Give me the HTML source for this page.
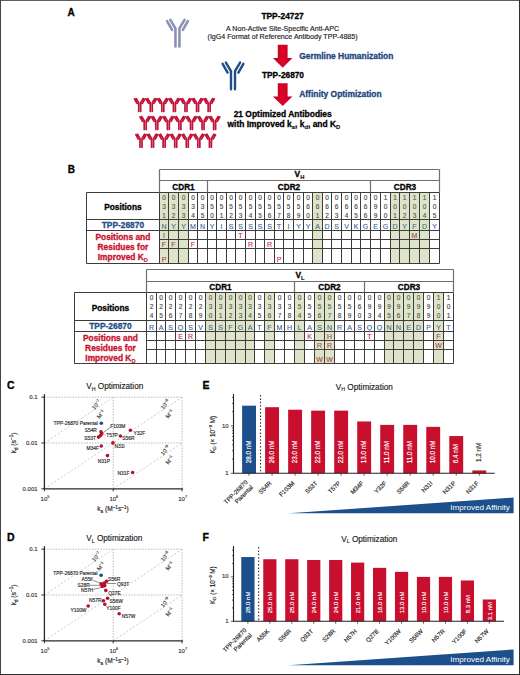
<!DOCTYPE html>
<html><head><meta charset="utf-8"><style>
html,body{margin:0;padding:0;background:#fff;}
svg{display:block;}
text{font-family:"Liberation Sans",sans-serif;}
</style></head><body>
<svg width="520" height="675" viewBox="0 0 520 675">
<defs><linearGradient id="ag" x1="0" y1="0" x2="1" y2="0"><stop offset="0" stop-color="#b5001f"/><stop offset="0.45" stop-color="#dc0528"/><stop offset="0.6" stop-color="#d80427"/><stop offset="1" stop-color="#b5001f"/></linearGradient></defs>
<rect width="520" height="675" fill="#fff"/>
<path d="M0,0.5H520" stroke="#5e5e5e" stroke-width="1"/>
<path d="M0.5,0V675" stroke="#454545" stroke-width="1"/>
<path d="M519.5,0V675" stroke="#2e2e2e" stroke-width="1"/>
<path d="M0,674.5H520" stroke="#2e2e2e" stroke-width="1"/>
<text x="67.5" y="15.8" font-size="10" font-weight="bold" stroke="#000" stroke-width="0.3" fill="#000">A</text>
<text x="282.6" y="19.4" font-size="8.4" font-weight="bold" stroke="#000" stroke-width="0.3" fill="#000" text-anchor="middle">TPP-24727</text>
<text stroke="#222" stroke-width="0.15" x="282.6" y="30.7" font-size="7.1" fill="#222" text-anchor="middle">A Non-Active Site-Specific Anti-APC</text>
<text stroke="#222" stroke-width="0.15" x="282.6" y="39.4" font-size="7.1" fill="#222" text-anchor="middle">(IgG4 Format of Reference Antibody TPP-4885)</text>
<path d="M277.8,44.8 L287.6,44.8 L287.6,57.9 L292.4,57.9 L282.7,67.7 L273,57.9 L277.8,57.9 Z" fill="url(#ag)"/>
<path d="M277.8,83.3 L287.6,83.3 L287.6,96.5 L292.4,96.5 L282.7,106 L273,96.5 L277.8,96.5 Z" fill="url(#ag)"/>
<text x="299.2" y="59.3" font-size="8.45" font-weight="bold" stroke="#1c467c" stroke-width="0.3" fill="#1c467c">Germline Humanization</text>
<text x="283" y="78.1" font-size="8.3" font-weight="bold" stroke="#000" stroke-width="0.3" fill="#000" text-anchor="middle">TPP-26870</text>
<text x="299.2" y="97.4" font-size="8.45" font-weight="bold" stroke="#1c467c" stroke-width="0.3" fill="#1c467c">Affinity Optimization</text>
<text x="282.7" y="117.1" font-size="8.45" font-weight="bold" stroke="#000" stroke-width="0.3" fill="#000" text-anchor="middle">21 Optimized Antibodies</text>
<text x="283.9" y="127.1" font-size="8.45" font-weight="bold" stroke="#000" stroke-width="0.3" text-anchor="middle">with Improved k<tspan font-size="5.8" dy="1.9" stroke-width="0.1">a</tspan><tspan dy="-1.9">, k</tspan><tspan font-size="5.8" dy="1.9" stroke-width="0.1">d</tspan><tspan dy="-1.9">, and K</tspan><tspan font-size="5.8" dy="1.9" stroke-width="0.1">D</tspan></text>
<path d="M175.45,46.4 L175.45,28.4 L170.35,19.95 M179.45,46.4 L179.45,28.4 L184.55,19.95 M172.05,29.9 L167.05,21.1 M182.85,29.9 L187.85,21.1" fill="none" stroke="#8c92b7" stroke-width="2.6" stroke-linejoin="round" stroke-linecap="round"/>
<path d="M231,89.2 L231,71.1 L225.9,62.6 M235,89.2 L235,71.1 L240.1,62.6 M227.6,72.6 L222.6,63.8 M238.4,72.6 L243.4,63.8" fill="none" stroke="#1f4f88" stroke-width="2.4" stroke-linejoin="round" stroke-linecap="round"/>
<path d="M138.7,111.45 L138.7,102.65 L136.15,98.53 M140.7,111.45 L140.7,102.65 L143.25,98.53 M137,103.4 L134.5,99 M142.4,103.4 L144.9,99" fill="none" stroke="#c01439" stroke-width="1.7" stroke-linejoin="round" stroke-linecap="round"/>
<path d="M150.27,111.45 L150.27,102.65 L147.72,98.53 M152.27,111.45 L152.27,102.65 L154.82,98.53 M148.57,103.4 L146.07,99 M153.97,103.4 L156.47,99" fill="none" stroke="#c01439" stroke-width="1.7" stroke-linejoin="round" stroke-linecap="round"/>
<path d="M161.84,111.45 L161.84,102.65 L159.29,98.53 M163.84,111.45 L163.84,102.65 L166.39,98.53 M160.14,103.4 L157.64,99 M165.54,103.4 L168.04,99" fill="none" stroke="#c01439" stroke-width="1.7" stroke-linejoin="round" stroke-linecap="round"/>
<path d="M173.41,111.45 L173.41,102.65 L170.86,98.53 M175.41,111.45 L175.41,102.65 L177.96,98.53 M171.71,103.4 L169.21,99 M177.11,103.4 L179.61,99" fill="none" stroke="#c01439" stroke-width="1.7" stroke-linejoin="round" stroke-linecap="round"/>
<path d="M184.98,111.45 L184.98,102.65 L182.43,98.53 M186.98,111.45 L186.98,102.65 L189.53,98.53 M183.28,103.4 L180.78,99 M188.68,103.4 L191.18,99" fill="none" stroke="#c01439" stroke-width="1.7" stroke-linejoin="round" stroke-linecap="round"/>
<path d="M196.55,111.45 L196.55,102.65 L194,98.53 M198.55,111.45 L198.55,102.65 L201.1,98.53 M194.85,103.4 L192.35,99 M200.25,103.4 L202.75,99" fill="none" stroke="#c01439" stroke-width="1.7" stroke-linejoin="round" stroke-linecap="round"/>
<path d="M208.12,111.45 L208.12,102.65 L205.57,98.53 M210.12,111.45 L210.12,102.65 L212.67,98.53 M206.42,103.4 L203.92,99 M211.82,103.4 L214.32,99" fill="none" stroke="#c01439" stroke-width="1.7" stroke-linejoin="round" stroke-linecap="round"/>
<path d="M144.2,129.45 L144.2,120.65 L141.65,116.53 M146.2,129.45 L146.2,120.65 L148.75,116.53 M142.5,121.4 L140,117 M147.9,121.4 L150.4,117" fill="none" stroke="#c01439" stroke-width="1.7" stroke-linejoin="round" stroke-linecap="round"/>
<path d="M155.77,129.45 L155.77,120.65 L153.22,116.53 M157.77,129.45 L157.77,120.65 L160.32,116.53 M154.07,121.4 L151.57,117 M159.47,121.4 L161.97,117" fill="none" stroke="#c01439" stroke-width="1.7" stroke-linejoin="round" stroke-linecap="round"/>
<path d="M167.34,129.45 L167.34,120.65 L164.79,116.53 M169.34,129.45 L169.34,120.65 L171.89,116.53 M165.64,121.4 L163.14,117 M171.04,121.4 L173.54,117" fill="none" stroke="#c01439" stroke-width="1.7" stroke-linejoin="round" stroke-linecap="round"/>
<path d="M178.91,129.45 L178.91,120.65 L176.36,116.53 M180.91,129.45 L180.91,120.65 L183.46,116.53 M177.21,121.4 L174.71,117 M182.61,121.4 L185.11,117" fill="none" stroke="#c01439" stroke-width="1.7" stroke-linejoin="round" stroke-linecap="round"/>
<path d="M190.48,129.45 L190.48,120.65 L187.93,116.53 M192.48,129.45 L192.48,120.65 L195.03,116.53 M188.78,121.4 L186.28,117 M194.18,121.4 L196.68,117" fill="none" stroke="#c01439" stroke-width="1.7" stroke-linejoin="round" stroke-linecap="round"/>
<path d="M202.05,129.45 L202.05,120.65 L199.5,116.53 M204.05,129.45 L204.05,120.65 L206.6,116.53 M200.35,121.4 L197.85,117 M205.75,121.4 L208.25,117" fill="none" stroke="#c01439" stroke-width="1.7" stroke-linejoin="round" stroke-linecap="round"/>
<path d="M213.62,129.45 L213.62,120.65 L211.07,116.53 M215.62,129.45 L215.62,120.65 L218.17,116.53 M211.92,121.4 L209.42,117 M217.32,121.4 L219.82,117" fill="none" stroke="#c01439" stroke-width="1.7" stroke-linejoin="round" stroke-linecap="round"/>
<path d="M140,147.15 L140,138.35 L137.45,134.22 M142,147.15 L142,138.35 L144.55,134.22 M138.3,139.1 L135.8,134.7 M143.7,139.1 L146.2,134.7" fill="none" stroke="#c01439" stroke-width="1.7" stroke-linejoin="round" stroke-linecap="round"/>
<path d="M151.57,147.15 L151.57,138.35 L149.02,134.22 M153.57,147.15 L153.57,138.35 L156.12,134.22 M149.87,139.1 L147.37,134.7 M155.27,139.1 L157.77,134.7" fill="none" stroke="#c01439" stroke-width="1.7" stroke-linejoin="round" stroke-linecap="round"/>
<path d="M163.14,147.15 L163.14,138.35 L160.59,134.22 M165.14,147.15 L165.14,138.35 L167.69,134.22 M161.44,139.1 L158.94,134.7 M166.84,139.1 L169.34,134.7" fill="none" stroke="#c01439" stroke-width="1.7" stroke-linejoin="round" stroke-linecap="round"/>
<path d="M174.71,147.15 L174.71,138.35 L172.16,134.22 M176.71,147.15 L176.71,138.35 L179.26,134.22 M173.01,139.1 L170.51,134.7 M178.41,139.1 L180.91,134.7" fill="none" stroke="#c01439" stroke-width="1.7" stroke-linejoin="round" stroke-linecap="round"/>
<path d="M186.28,147.15 L186.28,138.35 L183.73,134.22 M188.28,147.15 L188.28,138.35 L190.83,134.22 M184.58,139.1 L182.08,134.7 M189.98,139.1 L192.48,134.7" fill="none" stroke="#c01439" stroke-width="1.7" stroke-linejoin="round" stroke-linecap="round"/>
<path d="M197.85,147.15 L197.85,138.35 L195.3,134.22 M199.85,147.15 L199.85,138.35 L202.4,134.22 M196.15,139.1 L193.65,134.7 M201.55,139.1 L204.05,134.7" fill="none" stroke="#c01439" stroke-width="1.7" stroke-linejoin="round" stroke-linecap="round"/>
<path d="M209.42,147.15 L209.42,138.35 L206.87,134.22 M211.42,147.15 L211.42,138.35 L213.97,134.22 M207.72,139.1 L205.22,134.7 M213.12,139.1 L215.62,134.7" fill="none" stroke="#c01439" stroke-width="1.7" stroke-linejoin="round" stroke-linecap="round"/>
<text x="67.7" y="173" font-size="10" font-weight="bold" stroke="#000" stroke-width="0.3" fill="#000">B</text>
<rect x="159.5" y="192.5" width="9" height="71" fill="#dde4ca"/>
<rect x="168.5" y="192.5" width="10" height="71" fill="#dde4ca"/>
<rect x="178.5" y="192.5" width="10" height="71" fill="#dde4ca"/>
<rect x="312.5" y="192.5" width="10" height="71" fill="#dde4ca"/>
<rect x="390.5" y="192.5" width="9" height="71" fill="#dde4ca"/>
<rect x="399.5" y="192.5" width="10" height="71" fill="#dde4ca"/>
<rect x="409.5" y="192.5" width="10" height="71" fill="#dde4ca"/>
<rect x="419.5" y="192.5" width="10" height="71" fill="#dde4ca"/>
<path d="M86.5,192.5H439.5 M86.5,219.5H439.5 M86.5,230.5H439.5 M159.5,239.5H439.5 M159.5,248.5H439.5 M86.5,263.5H439.5 M86.5,192.5V263.5 M159.5,192.5V263.5 M168.5,192.5V263.5 M178.5,192.5V263.5 M188.5,192.5V263.5 M197.5,192.5V263.5 M207.5,192.5V263.5 M216.5,192.5V263.5 M226.5,192.5V263.5 M235.5,192.5V263.5 M245.5,192.5V263.5 M255.5,192.5V263.5 M264.5,192.5V263.5 M274.5,192.5V263.5 M283.5,192.5V263.5 M293.5,192.5V263.5 M303.5,192.5V263.5 M312.5,192.5V263.5 M322.5,192.5V263.5 M331.5,192.5V263.5 M341.5,192.5V263.5 M351.5,192.5V263.5 M360.5,192.5V263.5 M370.5,192.5V263.5 M380.5,192.5V263.5 M390.5,192.5V263.5 M399.5,192.5V263.5 M409.5,192.5V263.5 M419.5,192.5V263.5 M429.5,192.5V263.5 M439.5,192.5V263.5" stroke="#3c3c3c" stroke-width="1" fill="none"/>
<path d="M159.5,169.5H439.5 M159.5,180.5H439.5 M159.5,169.5V192.5 M439.5,169.5V192.5 M207.5,180.5V192.5 M370.5,180.5V192.5" stroke="#707070" stroke-width="1.2" fill="none"/>
<text x="299.5" y="177.2" font-size="8.4" font-weight="bold" stroke="#000" stroke-width="0.3" text-anchor="middle">V<tspan font-size="5.8" dy="2" stroke-width="0.1">H</tspan></text>
<text x="183.5" y="189.5" font-size="8.2" font-weight="bold" stroke="#000" stroke-width="0.3" fill="#000" text-anchor="middle">CDR1</text>
<text x="289" y="189.5" font-size="8.2" font-weight="bold" stroke="#000" stroke-width="0.3" fill="#000" text-anchor="middle">CDR2</text>
<text x="405" y="189.5" font-size="8.2" font-weight="bold" stroke="#000" stroke-width="0.3" fill="#000" text-anchor="middle">CDR3</text>
<text stroke="#5e5e48" stroke-width="0.15" x="164" y="199.9" font-size="6.5" fill="#5e5e48" text-anchor="middle">0</text>
<text stroke="#5e5e48" stroke-width="0.15" x="164" y="209" font-size="6.5" fill="#5e5e48" text-anchor="middle">3</text>
<text stroke="#5e5e48" stroke-width="0.15" x="164" y="218.1" font-size="6.5" fill="#5e5e48" text-anchor="middle">1</text>
<text stroke="#4d7385" stroke-width="0.15" x="164" y="228.8" font-size="7" fill="#4d7385" text-anchor="middle">N</text>
<text stroke="#a85048" stroke-width="0.15" x="164" y="237.8" font-size="7" fill="#a85048" text-anchor="middle">I</text>
<text stroke="#a85048" stroke-width="0.15" x="164" y="246.7" font-size="7" fill="#a85048" text-anchor="middle">F</text>
<text stroke="#a85048" stroke-width="0.15" x="164" y="261.5" font-size="7" fill="#a85048" text-anchor="middle">P</text>
<text stroke="#5e5e48" stroke-width="0.15" x="173.5" y="199.9" font-size="6.5" fill="#5e5e48" text-anchor="middle">0</text>
<text stroke="#5e5e48" stroke-width="0.15" x="173.5" y="209" font-size="6.5" fill="#5e5e48" text-anchor="middle">3</text>
<text stroke="#5e5e48" stroke-width="0.15" x="173.5" y="218.1" font-size="6.5" fill="#5e5e48" text-anchor="middle">2</text>
<text stroke="#4d7385" stroke-width="0.15" x="173.5" y="228.8" font-size="7" fill="#4d7385" text-anchor="middle">Y</text>
<text stroke="#a85048" stroke-width="0.15" x="173.5" y="246.7" font-size="7" fill="#a85048" text-anchor="middle">F</text>
<text stroke="#5e5e48" stroke-width="0.15" x="183.5" y="199.9" font-size="6.5" fill="#5e5e48" text-anchor="middle">0</text>
<text stroke="#5e5e48" stroke-width="0.15" x="183.5" y="209" font-size="6.5" fill="#5e5e48" text-anchor="middle">3</text>
<text stroke="#5e5e48" stroke-width="0.15" x="183.5" y="218.1" font-size="6.5" fill="#5e5e48" text-anchor="middle">3</text>
<text stroke="#4d7385" stroke-width="0.15" x="183.5" y="228.8" font-size="7" fill="#4d7385" text-anchor="middle">Y</text>
<text stroke="#4a4a4a" stroke-width="0.15" x="193" y="199.9" font-size="6.5" fill="#4a4a4a" text-anchor="middle">0</text>
<text stroke="#4a4a4a" stroke-width="0.15" x="193" y="209" font-size="6.5" fill="#4a4a4a" text-anchor="middle">3</text>
<text stroke="#4a4a4a" stroke-width="0.15" x="193" y="218.1" font-size="6.5" fill="#4a4a4a" text-anchor="middle">4</text>
<text stroke="#3f6aa5" stroke-width="0.15" x="193" y="228.8" font-size="7" fill="#3f6aa5" text-anchor="middle">M</text>
<text stroke="#cc2f52" stroke-width="0.15" x="193" y="246.7" font-size="7" fill="#cc2f52" text-anchor="middle">F</text>
<text stroke="#4a4a4a" stroke-width="0.15" x="202.5" y="199.9" font-size="6.5" fill="#4a4a4a" text-anchor="middle">0</text>
<text stroke="#4a4a4a" stroke-width="0.15" x="202.5" y="209" font-size="6.5" fill="#4a4a4a" text-anchor="middle">3</text>
<text stroke="#4a4a4a" stroke-width="0.15" x="202.5" y="218.1" font-size="6.5" fill="#4a4a4a" text-anchor="middle">5</text>
<text stroke="#3f6aa5" stroke-width="0.15" x="202.5" y="228.8" font-size="7" fill="#3f6aa5" text-anchor="middle">N</text>
<text stroke="#4a4a4a" stroke-width="0.15" x="212" y="199.9" font-size="6.5" fill="#4a4a4a" text-anchor="middle">0</text>
<text stroke="#4a4a4a" stroke-width="0.15" x="212" y="209" font-size="6.5" fill="#4a4a4a" text-anchor="middle">5</text>
<text stroke="#4a4a4a" stroke-width="0.15" x="212" y="218.1" font-size="6.5" fill="#4a4a4a" text-anchor="middle">0</text>
<text stroke="#3f6aa5" stroke-width="0.15" x="212" y="228.8" font-size="7" fill="#3f6aa5" text-anchor="middle">Y</text>
<text stroke="#4a4a4a" stroke-width="0.15" x="221.5" y="199.9" font-size="6.5" fill="#4a4a4a" text-anchor="middle">0</text>
<text stroke="#4a4a4a" stroke-width="0.15" x="221.5" y="209" font-size="6.5" fill="#4a4a4a" text-anchor="middle">5</text>
<text stroke="#4a4a4a" stroke-width="0.15" x="221.5" y="218.1" font-size="6.5" fill="#4a4a4a" text-anchor="middle">1</text>
<text stroke="#3f6aa5" stroke-width="0.15" x="221.5" y="228.8" font-size="7" fill="#3f6aa5" text-anchor="middle">I</text>
<text stroke="#4a4a4a" stroke-width="0.15" x="231" y="199.9" font-size="6.5" fill="#4a4a4a" text-anchor="middle">0</text>
<text stroke="#4a4a4a" stroke-width="0.15" x="231" y="209" font-size="6.5" fill="#4a4a4a" text-anchor="middle">5</text>
<text stroke="#4a4a4a" stroke-width="0.15" x="231" y="218.1" font-size="6.5" fill="#4a4a4a" text-anchor="middle">2</text>
<text stroke="#3f6aa5" stroke-width="0.15" x="231" y="228.8" font-size="7" fill="#3f6aa5" text-anchor="middle">S</text>
<text stroke="#4a4a4a" stroke-width="0.15" x="240.5" y="199.9" font-size="6.5" fill="#4a4a4a" text-anchor="middle">0</text>
<text stroke="#4a4a4a" stroke-width="0.15" x="240.5" y="209" font-size="6.5" fill="#4a4a4a" text-anchor="middle">5</text>
<text stroke="#4a4a4a" stroke-width="0.15" x="240.5" y="218.1" font-size="6.5" fill="#4a4a4a" text-anchor="middle">3</text>
<text stroke="#3f6aa5" stroke-width="0.15" x="240.5" y="228.8" font-size="7" fill="#3f6aa5" text-anchor="middle">S</text>
<text stroke="#cc2f52" stroke-width="0.15" x="240.5" y="237.8" font-size="7" fill="#cc2f52" text-anchor="middle">T</text>
<text stroke="#4a4a4a" stroke-width="0.15" x="250.5" y="199.9" font-size="6.5" fill="#4a4a4a" text-anchor="middle">0</text>
<text stroke="#4a4a4a" stroke-width="0.15" x="250.5" y="209" font-size="6.5" fill="#4a4a4a" text-anchor="middle">5</text>
<text stroke="#4a4a4a" stroke-width="0.15" x="250.5" y="218.1" font-size="6.5" fill="#4a4a4a" text-anchor="middle">4</text>
<text stroke="#3f6aa5" stroke-width="0.15" x="250.5" y="228.8" font-size="7" fill="#3f6aa5" text-anchor="middle">S</text>
<text stroke="#cc2f52" stroke-width="0.15" x="250.5" y="246.7" font-size="7" fill="#cc2f52" text-anchor="middle">R</text>
<text stroke="#4a4a4a" stroke-width="0.15" x="260" y="199.9" font-size="6.5" fill="#4a4a4a" text-anchor="middle">0</text>
<text stroke="#4a4a4a" stroke-width="0.15" x="260" y="209" font-size="6.5" fill="#4a4a4a" text-anchor="middle">5</text>
<text stroke="#4a4a4a" stroke-width="0.15" x="260" y="218.1" font-size="6.5" fill="#4a4a4a" text-anchor="middle">5</text>
<text stroke="#3f6aa5" stroke-width="0.15" x="260" y="228.8" font-size="7" fill="#3f6aa5" text-anchor="middle">S</text>
<text stroke="#4a4a4a" stroke-width="0.15" x="269.5" y="199.9" font-size="6.5" fill="#4a4a4a" text-anchor="middle">0</text>
<text stroke="#4a4a4a" stroke-width="0.15" x="269.5" y="209" font-size="6.5" fill="#4a4a4a" text-anchor="middle">5</text>
<text stroke="#4a4a4a" stroke-width="0.15" x="269.5" y="218.1" font-size="6.5" fill="#4a4a4a" text-anchor="middle">6</text>
<text stroke="#3f6aa5" stroke-width="0.15" x="269.5" y="228.8" font-size="7" fill="#3f6aa5" text-anchor="middle">S</text>
<text stroke="#cc2f52" stroke-width="0.15" x="269.5" y="246.7" font-size="7" fill="#cc2f52" text-anchor="middle">R</text>
<text stroke="#4a4a4a" stroke-width="0.15" x="279" y="199.9" font-size="6.5" fill="#4a4a4a" text-anchor="middle">0</text>
<text stroke="#4a4a4a" stroke-width="0.15" x="279" y="209" font-size="6.5" fill="#4a4a4a" text-anchor="middle">5</text>
<text stroke="#4a4a4a" stroke-width="0.15" x="279" y="218.1" font-size="6.5" fill="#4a4a4a" text-anchor="middle">7</text>
<text stroke="#3f6aa5" stroke-width="0.15" x="279" y="228.8" font-size="7" fill="#3f6aa5" text-anchor="middle">T</text>
<text stroke="#cc2f52" stroke-width="0.15" x="279" y="261.5" font-size="7" fill="#cc2f52" text-anchor="middle">P</text>
<text stroke="#4a4a4a" stroke-width="0.15" x="288.5" y="199.9" font-size="6.5" fill="#4a4a4a" text-anchor="middle">0</text>
<text stroke="#4a4a4a" stroke-width="0.15" x="288.5" y="209" font-size="6.5" fill="#4a4a4a" text-anchor="middle">5</text>
<text stroke="#4a4a4a" stroke-width="0.15" x="288.5" y="218.1" font-size="6.5" fill="#4a4a4a" text-anchor="middle">8</text>
<text stroke="#3f6aa5" stroke-width="0.15" x="288.5" y="228.8" font-size="7" fill="#3f6aa5" text-anchor="middle">I</text>
<text stroke="#4a4a4a" stroke-width="0.15" x="298.5" y="199.9" font-size="6.5" fill="#4a4a4a" text-anchor="middle">0</text>
<text stroke="#4a4a4a" stroke-width="0.15" x="298.5" y="209" font-size="6.5" fill="#4a4a4a" text-anchor="middle">5</text>
<text stroke="#4a4a4a" stroke-width="0.15" x="298.5" y="218.1" font-size="6.5" fill="#4a4a4a" text-anchor="middle">9</text>
<text stroke="#3f6aa5" stroke-width="0.15" x="298.5" y="228.8" font-size="7" fill="#3f6aa5" text-anchor="middle">Y</text>
<text stroke="#4a4a4a" stroke-width="0.15" x="308" y="199.9" font-size="6.5" fill="#4a4a4a" text-anchor="middle">0</text>
<text stroke="#4a4a4a" stroke-width="0.15" x="308" y="209" font-size="6.5" fill="#4a4a4a" text-anchor="middle">6</text>
<text stroke="#4a4a4a" stroke-width="0.15" x="308" y="218.1" font-size="6.5" fill="#4a4a4a" text-anchor="middle">0</text>
<text stroke="#3f6aa5" stroke-width="0.15" x="308" y="228.8" font-size="7" fill="#3f6aa5" text-anchor="middle">Y</text>
<text stroke="#5e5e48" stroke-width="0.15" x="317.5" y="199.9" font-size="6.5" fill="#5e5e48" text-anchor="middle">0</text>
<text stroke="#5e5e48" stroke-width="0.15" x="317.5" y="209" font-size="6.5" fill="#5e5e48" text-anchor="middle">6</text>
<text stroke="#5e5e48" stroke-width="0.15" x="317.5" y="218.1" font-size="6.5" fill="#5e5e48" text-anchor="middle">1</text>
<text stroke="#4d7385" stroke-width="0.15" x="317.5" y="228.8" font-size="7" fill="#4d7385" text-anchor="middle">A</text>
<text stroke="#4a4a4a" stroke-width="0.15" x="327" y="199.9" font-size="6.5" fill="#4a4a4a" text-anchor="middle">0</text>
<text stroke="#4a4a4a" stroke-width="0.15" x="327" y="209" font-size="6.5" fill="#4a4a4a" text-anchor="middle">6</text>
<text stroke="#4a4a4a" stroke-width="0.15" x="327" y="218.1" font-size="6.5" fill="#4a4a4a" text-anchor="middle">2</text>
<text stroke="#3f6aa5" stroke-width="0.15" x="327" y="228.8" font-size="7" fill="#3f6aa5" text-anchor="middle">D</text>
<text stroke="#4a4a4a" stroke-width="0.15" x="336.5" y="199.9" font-size="6.5" fill="#4a4a4a" text-anchor="middle">0</text>
<text stroke="#4a4a4a" stroke-width="0.15" x="336.5" y="209" font-size="6.5" fill="#4a4a4a" text-anchor="middle">6</text>
<text stroke="#4a4a4a" stroke-width="0.15" x="336.5" y="218.1" font-size="6.5" fill="#4a4a4a" text-anchor="middle">3</text>
<text stroke="#3f6aa5" stroke-width="0.15" x="336.5" y="228.8" font-size="7" fill="#3f6aa5" text-anchor="middle">S</text>
<text stroke="#4a4a4a" stroke-width="0.15" x="346.5" y="199.9" font-size="6.5" fill="#4a4a4a" text-anchor="middle">0</text>
<text stroke="#4a4a4a" stroke-width="0.15" x="346.5" y="209" font-size="6.5" fill="#4a4a4a" text-anchor="middle">6</text>
<text stroke="#4a4a4a" stroke-width="0.15" x="346.5" y="218.1" font-size="6.5" fill="#4a4a4a" text-anchor="middle">4</text>
<text stroke="#3f6aa5" stroke-width="0.15" x="346.5" y="228.8" font-size="7" fill="#3f6aa5" text-anchor="middle">V</text>
<text stroke="#4a4a4a" stroke-width="0.15" x="356" y="199.9" font-size="6.5" fill="#4a4a4a" text-anchor="middle">0</text>
<text stroke="#4a4a4a" stroke-width="0.15" x="356" y="209" font-size="6.5" fill="#4a4a4a" text-anchor="middle">6</text>
<text stroke="#4a4a4a" stroke-width="0.15" x="356" y="218.1" font-size="6.5" fill="#4a4a4a" text-anchor="middle">5</text>
<text stroke="#3f6aa5" stroke-width="0.15" x="356" y="228.8" font-size="7" fill="#3f6aa5" text-anchor="middle">K</text>
<text stroke="#4a4a4a" stroke-width="0.15" x="365.5" y="199.9" font-size="6.5" fill="#4a4a4a" text-anchor="middle">0</text>
<text stroke="#4a4a4a" stroke-width="0.15" x="365.5" y="209" font-size="6.5" fill="#4a4a4a" text-anchor="middle">6</text>
<text stroke="#4a4a4a" stroke-width="0.15" x="365.5" y="218.1" font-size="6.5" fill="#4a4a4a" text-anchor="middle">6</text>
<text stroke="#3f6aa5" stroke-width="0.15" x="365.5" y="228.8" font-size="7" fill="#3f6aa5" text-anchor="middle">G</text>
<text stroke="#4a4a4a" stroke-width="0.15" x="375.5" y="199.9" font-size="6.5" fill="#4a4a4a" text-anchor="middle">0</text>
<text stroke="#4a4a4a" stroke-width="0.15" x="375.5" y="209" font-size="6.5" fill="#4a4a4a" text-anchor="middle">9</text>
<text stroke="#4a4a4a" stroke-width="0.15" x="375.5" y="218.1" font-size="6.5" fill="#4a4a4a" text-anchor="middle">9</text>
<text stroke="#3f6aa5" stroke-width="0.15" x="375.5" y="228.8" font-size="7" fill="#3f6aa5" text-anchor="middle">E</text>
<text stroke="#4a4a4a" stroke-width="0.15" x="385.5" y="199.9" font-size="6.5" fill="#4a4a4a" text-anchor="middle">1</text>
<text stroke="#4a4a4a" stroke-width="0.15" x="385.5" y="209" font-size="6.5" fill="#4a4a4a" text-anchor="middle">0</text>
<text stroke="#4a4a4a" stroke-width="0.15" x="385.5" y="218.1" font-size="6.5" fill="#4a4a4a" text-anchor="middle">0</text>
<text stroke="#3f6aa5" stroke-width="0.15" x="385.5" y="228.8" font-size="7" fill="#3f6aa5" text-anchor="middle">G</text>
<text stroke="#5e5e48" stroke-width="0.15" x="395" y="199.9" font-size="6.5" fill="#5e5e48" text-anchor="middle">1</text>
<text stroke="#5e5e48" stroke-width="0.15" x="395" y="209" font-size="6.5" fill="#5e5e48" text-anchor="middle">0</text>
<text stroke="#5e5e48" stroke-width="0.15" x="395" y="218.1" font-size="6.5" fill="#5e5e48" text-anchor="middle">1</text>
<text stroke="#4d7385" stroke-width="0.15" x="395" y="228.8" font-size="7" fill="#4d7385" text-anchor="middle">D</text>
<text stroke="#5e5e48" stroke-width="0.15" x="404.5" y="199.9" font-size="6.5" fill="#5e5e48" text-anchor="middle">1</text>
<text stroke="#5e5e48" stroke-width="0.15" x="404.5" y="209" font-size="6.5" fill="#5e5e48" text-anchor="middle">0</text>
<text stroke="#5e5e48" stroke-width="0.15" x="404.5" y="218.1" font-size="6.5" fill="#5e5e48" text-anchor="middle">2</text>
<text stroke="#4d7385" stroke-width="0.15" x="404.5" y="228.8" font-size="7" fill="#4d7385" text-anchor="middle">Y</text>
<text stroke="#5e5e48" stroke-width="0.15" x="414.5" y="199.9" font-size="6.5" fill="#5e5e48" text-anchor="middle">1</text>
<text stroke="#5e5e48" stroke-width="0.15" x="414.5" y="209" font-size="6.5" fill="#5e5e48" text-anchor="middle">0</text>
<text stroke="#5e5e48" stroke-width="0.15" x="414.5" y="218.1" font-size="6.5" fill="#5e5e48" text-anchor="middle">3</text>
<text stroke="#4d7385" stroke-width="0.15" x="414.5" y="228.8" font-size="7" fill="#4d7385" text-anchor="middle">F</text>
<text stroke="#a85048" stroke-width="0.15" x="414.5" y="237.8" font-size="7" fill="#a85048" text-anchor="middle">M</text>
<text stroke="#5e5e48" stroke-width="0.15" x="424.5" y="199.9" font-size="6.5" fill="#5e5e48" text-anchor="middle">1</text>
<text stroke="#5e5e48" stroke-width="0.15" x="424.5" y="209" font-size="6.5" fill="#5e5e48" text-anchor="middle">0</text>
<text stroke="#5e5e48" stroke-width="0.15" x="424.5" y="218.1" font-size="6.5" fill="#5e5e48" text-anchor="middle">4</text>
<text stroke="#4d7385" stroke-width="0.15" x="424.5" y="228.8" font-size="7" fill="#4d7385" text-anchor="middle">D</text>
<text stroke="#4a4a4a" stroke-width="0.15" x="434.5" y="199.9" font-size="6.5" fill="#4a4a4a" text-anchor="middle">1</text>
<text stroke="#4a4a4a" stroke-width="0.15" x="434.5" y="209" font-size="6.5" fill="#4a4a4a" text-anchor="middle">0</text>
<text stroke="#4a4a4a" stroke-width="0.15" x="434.5" y="218.1" font-size="6.5" fill="#4a4a4a" text-anchor="middle">5</text>
<text stroke="#3f6aa5" stroke-width="0.15" x="434.5" y="228.8" font-size="7" fill="#3f6aa5" text-anchor="middle">Y</text>
<text x="122.9" y="210.1" font-size="8.3" font-weight="bold" stroke="#000" stroke-width="0.3" fill="#000" text-anchor="middle">Positions</text>
<text x="122.9" y="228.3" font-size="8.4" font-weight="bold" stroke="#1f4f8a" stroke-width="0.3" fill="#1f4f8a" text-anchor="middle">TPP-26870</text>
<text x="122.9" y="239.7" font-size="8.4" font-weight="bold" stroke="#c8102e" stroke-width="0.3" fill="#c8102e" text-anchor="middle">Positions and</text>
<text x="122.9" y="250" font-size="8.4" font-weight="bold" stroke="#c8102e" stroke-width="0.3" fill="#c8102e" text-anchor="middle">Residues for</text>
<text x="122.9" y="260.3" font-size="8.4" font-weight="bold" fill="#c8102e" stroke="#c8102e" stroke-width="0.3" text-anchor="middle">Improved K<tspan font-size="5.8" dy="1.9" stroke-width="0.1">D</tspan></text>
<rect x="205.5" y="292.5" width="10" height="71" fill="#dde4ca"/>
<rect x="215.5" y="292.5" width="10" height="71" fill="#dde4ca"/>
<rect x="225.5" y="292.5" width="10" height="71" fill="#dde4ca"/>
<rect x="235.5" y="292.5" width="10" height="71" fill="#dde4ca"/>
<rect x="245.5" y="292.5" width="9" height="71" fill="#dde4ca"/>
<rect x="264.5" y="292.5" width="10" height="71" fill="#dde4ca"/>
<rect x="294.5" y="292.5" width="10" height="71" fill="#dde4ca"/>
<rect x="314.5" y="292.5" width="10" height="71" fill="#dde4ca"/>
<rect x="324.5" y="292.5" width="10" height="71" fill="#dde4ca"/>
<rect x="384.5" y="292.5" width="9" height="71" fill="#dde4ca"/>
<rect x="393.5" y="292.5" width="10" height="71" fill="#dde4ca"/>
<rect x="403.5" y="292.5" width="10" height="71" fill="#dde4ca"/>
<rect x="413.5" y="292.5" width="10" height="71" fill="#dde4ca"/>
<rect x="433.5" y="292.5" width="10" height="71" fill="#dde4ca"/>
<path d="M74.5,292.5H453.5 M74.5,320.5H453.5 M74.5,331.5H453.5 M146.5,340.5H453.5 M146.5,349.5H453.5 M74.5,363.5H453.5 M74.5,292.5V363.5 M146.5,292.5V363.5 M156.5,292.5V363.5 M165.5,292.5V363.5 M175.5,292.5V363.5 M185.5,292.5V363.5 M195.5,292.5V363.5 M205.5,292.5V363.5 M215.5,292.5V363.5 M225.5,292.5V363.5 M235.5,292.5V363.5 M245.5,292.5V363.5 M254.5,292.5V363.5 M264.5,292.5V363.5 M274.5,292.5V363.5 M284.5,292.5V363.5 M294.5,292.5V363.5 M304.5,292.5V363.5 M314.5,292.5V363.5 M324.5,292.5V363.5 M334.5,292.5V363.5 M344.5,292.5V363.5 M354.5,292.5V363.5 M364.5,292.5V363.5 M374.5,292.5V363.5 M384.5,292.5V363.5 M393.5,292.5V363.5 M403.5,292.5V363.5 M413.5,292.5V363.5 M423.5,292.5V363.5 M433.5,292.5V363.5 M443.5,292.5V363.5 M453.5,292.5V363.5" stroke="#3c3c3c" stroke-width="1" fill="none"/>
<path d="M146.5,269.5H453.5 M146.5,281.5H453.5 M146.5,269.5V292.5 M453.5,269.5V292.5 M294.5,281.5V292.5 M364.5,281.5V292.5" stroke="#707070" stroke-width="1.2" fill="none"/>
<text x="300" y="278.2" font-size="8.4" font-weight="bold" stroke="#000" stroke-width="0.3" text-anchor="middle">V<tspan font-size="5.8" dy="2" stroke-width="0.1">L</tspan></text>
<text x="220.5" y="289.5" font-size="8.2" font-weight="bold" stroke="#000" stroke-width="0.3" fill="#000" text-anchor="middle">CDR1</text>
<text x="329.5" y="289.5" font-size="8.2" font-weight="bold" stroke="#000" stroke-width="0.3" fill="#000" text-anchor="middle">CDR2</text>
<text x="409" y="289.5" font-size="8.2" font-weight="bold" stroke="#000" stroke-width="0.3" fill="#000" text-anchor="middle">CDR3</text>
<text stroke="#4a4a4a" stroke-width="0.15" x="151.5" y="299.9" font-size="6.5" fill="#4a4a4a" text-anchor="middle">0</text>
<text stroke="#4a4a4a" stroke-width="0.15" x="151.5" y="309" font-size="6.5" fill="#4a4a4a" text-anchor="middle">2</text>
<text stroke="#4a4a4a" stroke-width="0.15" x="151.5" y="318.1" font-size="6.5" fill="#4a4a4a" text-anchor="middle">4</text>
<text stroke="#3f6aa5" stroke-width="0.15" x="151.5" y="329.8" font-size="7" fill="#3f6aa5" text-anchor="middle">R</text>
<text stroke="#4a4a4a" stroke-width="0.15" x="161" y="299.9" font-size="6.5" fill="#4a4a4a" text-anchor="middle">0</text>
<text stroke="#4a4a4a" stroke-width="0.15" x="161" y="309" font-size="6.5" fill="#4a4a4a" text-anchor="middle">2</text>
<text stroke="#4a4a4a" stroke-width="0.15" x="161" y="318.1" font-size="6.5" fill="#4a4a4a" text-anchor="middle">5</text>
<text stroke="#3f6aa5" stroke-width="0.15" x="161" y="329.8" font-size="7" fill="#3f6aa5" text-anchor="middle">A</text>
<text stroke="#4a4a4a" stroke-width="0.15" x="170.5" y="299.9" font-size="6.5" fill="#4a4a4a" text-anchor="middle">0</text>
<text stroke="#4a4a4a" stroke-width="0.15" x="170.5" y="309" font-size="6.5" fill="#4a4a4a" text-anchor="middle">2</text>
<text stroke="#4a4a4a" stroke-width="0.15" x="170.5" y="318.1" font-size="6.5" fill="#4a4a4a" text-anchor="middle">6</text>
<text stroke="#3f6aa5" stroke-width="0.15" x="170.5" y="329.8" font-size="7" fill="#3f6aa5" text-anchor="middle">S</text>
<text stroke="#4a4a4a" stroke-width="0.15" x="180.5" y="299.9" font-size="6.5" fill="#4a4a4a" text-anchor="middle">0</text>
<text stroke="#4a4a4a" stroke-width="0.15" x="180.5" y="309" font-size="6.5" fill="#4a4a4a" text-anchor="middle">2</text>
<text stroke="#4a4a4a" stroke-width="0.15" x="180.5" y="318.1" font-size="6.5" fill="#4a4a4a" text-anchor="middle">7</text>
<text stroke="#3f6aa5" stroke-width="0.15" x="180.5" y="329.8" font-size="7" fill="#3f6aa5" text-anchor="middle">Q</text>
<text stroke="#cc2f52" stroke-width="0.15" x="180.5" y="338.8" font-size="7" fill="#cc2f52" text-anchor="middle">E</text>
<text stroke="#4a4a4a" stroke-width="0.15" x="190.5" y="299.9" font-size="6.5" fill="#4a4a4a" text-anchor="middle">0</text>
<text stroke="#4a4a4a" stroke-width="0.15" x="190.5" y="309" font-size="6.5" fill="#4a4a4a" text-anchor="middle">2</text>
<text stroke="#4a4a4a" stroke-width="0.15" x="190.5" y="318.1" font-size="6.5" fill="#4a4a4a" text-anchor="middle">8</text>
<text stroke="#3f6aa5" stroke-width="0.15" x="190.5" y="329.8" font-size="7" fill="#3f6aa5" text-anchor="middle">S</text>
<text stroke="#cc2f52" stroke-width="0.15" x="190.5" y="338.8" font-size="7" fill="#cc2f52" text-anchor="middle">R</text>
<text stroke="#4a4a4a" stroke-width="0.15" x="200.5" y="299.9" font-size="6.5" fill="#4a4a4a" text-anchor="middle">0</text>
<text stroke="#4a4a4a" stroke-width="0.15" x="200.5" y="309" font-size="6.5" fill="#4a4a4a" text-anchor="middle">2</text>
<text stroke="#4a4a4a" stroke-width="0.15" x="200.5" y="318.1" font-size="6.5" fill="#4a4a4a" text-anchor="middle">9</text>
<text stroke="#3f6aa5" stroke-width="0.15" x="200.5" y="329.8" font-size="7" fill="#3f6aa5" text-anchor="middle">V</text>
<text stroke="#5e5e48" stroke-width="0.15" x="210.5" y="299.9" font-size="6.5" fill="#5e5e48" text-anchor="middle">0</text>
<text stroke="#5e5e48" stroke-width="0.15" x="210.5" y="309" font-size="6.5" fill="#5e5e48" text-anchor="middle">3</text>
<text stroke="#5e5e48" stroke-width="0.15" x="210.5" y="318.1" font-size="6.5" fill="#5e5e48" text-anchor="middle">0</text>
<text stroke="#4d7385" stroke-width="0.15" x="210.5" y="329.8" font-size="7" fill="#4d7385" text-anchor="middle">S</text>
<text stroke="#5e5e48" stroke-width="0.15" x="220.5" y="299.9" font-size="6.5" fill="#5e5e48" text-anchor="middle">0</text>
<text stroke="#5e5e48" stroke-width="0.15" x="220.5" y="309" font-size="6.5" fill="#5e5e48" text-anchor="middle">3</text>
<text stroke="#5e5e48" stroke-width="0.15" x="220.5" y="318.1" font-size="6.5" fill="#5e5e48" text-anchor="middle">1</text>
<text stroke="#4d7385" stroke-width="0.15" x="220.5" y="329.8" font-size="7" fill="#4d7385" text-anchor="middle">S</text>
<text stroke="#5e5e48" stroke-width="0.15" x="230.5" y="299.9" font-size="6.5" fill="#5e5e48" text-anchor="middle">0</text>
<text stroke="#5e5e48" stroke-width="0.15" x="230.5" y="309" font-size="6.5" fill="#5e5e48" text-anchor="middle">3</text>
<text stroke="#5e5e48" stroke-width="0.15" x="230.5" y="318.1" font-size="6.5" fill="#5e5e48" text-anchor="middle">2</text>
<text stroke="#4d7385" stroke-width="0.15" x="230.5" y="329.8" font-size="7" fill="#4d7385" text-anchor="middle">F</text>
<text stroke="#5e5e48" stroke-width="0.15" x="240.5" y="299.9" font-size="6.5" fill="#5e5e48" text-anchor="middle">0</text>
<text stroke="#5e5e48" stroke-width="0.15" x="240.5" y="309" font-size="6.5" fill="#5e5e48" text-anchor="middle">3</text>
<text stroke="#5e5e48" stroke-width="0.15" x="240.5" y="318.1" font-size="6.5" fill="#5e5e48" text-anchor="middle">3</text>
<text stroke="#4d7385" stroke-width="0.15" x="240.5" y="329.8" font-size="7" fill="#4d7385" text-anchor="middle">G</text>
<text stroke="#5e5e48" stroke-width="0.15" x="250" y="299.9" font-size="6.5" fill="#5e5e48" text-anchor="middle">0</text>
<text stroke="#5e5e48" stroke-width="0.15" x="250" y="309" font-size="6.5" fill="#5e5e48" text-anchor="middle">3</text>
<text stroke="#5e5e48" stroke-width="0.15" x="250" y="318.1" font-size="6.5" fill="#5e5e48" text-anchor="middle">4</text>
<text stroke="#4d7385" stroke-width="0.15" x="250" y="329.8" font-size="7" fill="#4d7385" text-anchor="middle">A</text>
<text stroke="#4a4a4a" stroke-width="0.15" x="259.5" y="299.9" font-size="6.5" fill="#4a4a4a" text-anchor="middle">0</text>
<text stroke="#4a4a4a" stroke-width="0.15" x="259.5" y="309" font-size="6.5" fill="#4a4a4a" text-anchor="middle">3</text>
<text stroke="#4a4a4a" stroke-width="0.15" x="259.5" y="318.1" font-size="6.5" fill="#4a4a4a" text-anchor="middle">5</text>
<text stroke="#3f6aa5" stroke-width="0.15" x="259.5" y="329.8" font-size="7" fill="#3f6aa5" text-anchor="middle">T</text>
<text stroke="#5e5e48" stroke-width="0.15" x="269.5" y="299.9" font-size="6.5" fill="#5e5e48" text-anchor="middle">0</text>
<text stroke="#5e5e48" stroke-width="0.15" x="269.5" y="309" font-size="6.5" fill="#5e5e48" text-anchor="middle">3</text>
<text stroke="#5e5e48" stroke-width="0.15" x="269.5" y="318.1" font-size="6.5" fill="#5e5e48" text-anchor="middle">6</text>
<text stroke="#4d7385" stroke-width="0.15" x="269.5" y="329.8" font-size="7" fill="#4d7385" text-anchor="middle">F</text>
<text stroke="#4a4a4a" stroke-width="0.15" x="279.5" y="299.9" font-size="6.5" fill="#4a4a4a" text-anchor="middle">0</text>
<text stroke="#4a4a4a" stroke-width="0.15" x="279.5" y="309" font-size="6.5" fill="#4a4a4a" text-anchor="middle">3</text>
<text stroke="#4a4a4a" stroke-width="0.15" x="279.5" y="318.1" font-size="6.5" fill="#4a4a4a" text-anchor="middle">7</text>
<text stroke="#3f6aa5" stroke-width="0.15" x="279.5" y="329.8" font-size="7" fill="#3f6aa5" text-anchor="middle">M</text>
<text stroke="#4a4a4a" stroke-width="0.15" x="289.5" y="299.9" font-size="6.5" fill="#4a4a4a" text-anchor="middle">0</text>
<text stroke="#4a4a4a" stroke-width="0.15" x="289.5" y="309" font-size="6.5" fill="#4a4a4a" text-anchor="middle">3</text>
<text stroke="#4a4a4a" stroke-width="0.15" x="289.5" y="318.1" font-size="6.5" fill="#4a4a4a" text-anchor="middle">8</text>
<text stroke="#3f6aa5" stroke-width="0.15" x="289.5" y="329.8" font-size="7" fill="#3f6aa5" text-anchor="middle">H</text>
<text stroke="#5e5e48" stroke-width="0.15" x="299.5" y="299.9" font-size="6.5" fill="#5e5e48" text-anchor="middle">0</text>
<text stroke="#5e5e48" stroke-width="0.15" x="299.5" y="309" font-size="6.5" fill="#5e5e48" text-anchor="middle">5</text>
<text stroke="#5e5e48" stroke-width="0.15" x="299.5" y="318.1" font-size="6.5" fill="#5e5e48" text-anchor="middle">4</text>
<text stroke="#4d7385" stroke-width="0.15" x="299.5" y="329.8" font-size="7" fill="#4d7385" text-anchor="middle">L</text>
<text stroke="#4a4a4a" stroke-width="0.15" x="309.5" y="299.9" font-size="6.5" fill="#4a4a4a" text-anchor="middle">0</text>
<text stroke="#4a4a4a" stroke-width="0.15" x="309.5" y="309" font-size="6.5" fill="#4a4a4a" text-anchor="middle">5</text>
<text stroke="#4a4a4a" stroke-width="0.15" x="309.5" y="318.1" font-size="6.5" fill="#4a4a4a" text-anchor="middle">5</text>
<text stroke="#3f6aa5" stroke-width="0.15" x="309.5" y="329.8" font-size="7" fill="#3f6aa5" text-anchor="middle">A</text>
<text stroke="#cc2f52" stroke-width="0.15" x="309.5" y="338.8" font-size="7" fill="#cc2f52" text-anchor="middle">K</text>
<text stroke="#5e5e48" stroke-width="0.15" x="319.5" y="299.9" font-size="6.5" fill="#5e5e48" text-anchor="middle">0</text>
<text stroke="#5e5e48" stroke-width="0.15" x="319.5" y="309" font-size="6.5" fill="#5e5e48" text-anchor="middle">5</text>
<text stroke="#5e5e48" stroke-width="0.15" x="319.5" y="318.1" font-size="6.5" fill="#5e5e48" text-anchor="middle">6</text>
<text stroke="#4d7385" stroke-width="0.15" x="319.5" y="329.8" font-size="7" fill="#4d7385" text-anchor="middle">S</text>
<text stroke="#a85048" stroke-width="0.15" x="319.5" y="347.7" font-size="7" fill="#a85048" text-anchor="middle">R</text>
<text stroke="#a85048" stroke-width="0.15" x="319.5" y="361.5" font-size="7" fill="#a85048" text-anchor="middle">W</text>
<text stroke="#5e5e48" stroke-width="0.15" x="329.5" y="299.9" font-size="6.5" fill="#5e5e48" text-anchor="middle">0</text>
<text stroke="#5e5e48" stroke-width="0.15" x="329.5" y="309" font-size="6.5" fill="#5e5e48" text-anchor="middle">5</text>
<text stroke="#5e5e48" stroke-width="0.15" x="329.5" y="318.1" font-size="6.5" fill="#5e5e48" text-anchor="middle">7</text>
<text stroke="#4d7385" stroke-width="0.15" x="329.5" y="329.8" font-size="7" fill="#4d7385" text-anchor="middle">N</text>
<text stroke="#a85048" stroke-width="0.15" x="329.5" y="338.8" font-size="7" fill="#a85048" text-anchor="middle">H</text>
<text stroke="#a85048" stroke-width="0.15" x="329.5" y="347.7" font-size="7" fill="#a85048" text-anchor="middle">R</text>
<text stroke="#a85048" stroke-width="0.15" x="329.5" y="361.5" font-size="7" fill="#a85048" text-anchor="middle">W</text>
<text stroke="#4a4a4a" stroke-width="0.15" x="339.5" y="299.9" font-size="6.5" fill="#4a4a4a" text-anchor="middle">0</text>
<text stroke="#4a4a4a" stroke-width="0.15" x="339.5" y="309" font-size="6.5" fill="#4a4a4a" text-anchor="middle">5</text>
<text stroke="#4a4a4a" stroke-width="0.15" x="339.5" y="318.1" font-size="6.5" fill="#4a4a4a" text-anchor="middle">8</text>
<text stroke="#3f6aa5" stroke-width="0.15" x="339.5" y="329.8" font-size="7" fill="#3f6aa5" text-anchor="middle">R</text>
<text stroke="#4a4a4a" stroke-width="0.15" x="349.5" y="299.9" font-size="6.5" fill="#4a4a4a" text-anchor="middle">0</text>
<text stroke="#4a4a4a" stroke-width="0.15" x="349.5" y="309" font-size="6.5" fill="#4a4a4a" text-anchor="middle">5</text>
<text stroke="#4a4a4a" stroke-width="0.15" x="349.5" y="318.1" font-size="6.5" fill="#4a4a4a" text-anchor="middle">9</text>
<text stroke="#3f6aa5" stroke-width="0.15" x="349.5" y="329.8" font-size="7" fill="#3f6aa5" text-anchor="middle">A</text>
<text stroke="#4a4a4a" stroke-width="0.15" x="359.5" y="299.9" font-size="6.5" fill="#4a4a4a" text-anchor="middle">0</text>
<text stroke="#4a4a4a" stroke-width="0.15" x="359.5" y="309" font-size="6.5" fill="#4a4a4a" text-anchor="middle">6</text>
<text stroke="#4a4a4a" stroke-width="0.15" x="359.5" y="318.1" font-size="6.5" fill="#4a4a4a" text-anchor="middle">0</text>
<text stroke="#3f6aa5" stroke-width="0.15" x="359.5" y="329.8" font-size="7" fill="#3f6aa5" text-anchor="middle">S</text>
<text stroke="#4a4a4a" stroke-width="0.15" x="369.5" y="299.9" font-size="6.5" fill="#4a4a4a" text-anchor="middle">0</text>
<text stroke="#4a4a4a" stroke-width="0.15" x="369.5" y="309" font-size="6.5" fill="#4a4a4a" text-anchor="middle">9</text>
<text stroke="#4a4a4a" stroke-width="0.15" x="369.5" y="318.1" font-size="6.5" fill="#4a4a4a" text-anchor="middle">3</text>
<text stroke="#3f6aa5" stroke-width="0.15" x="369.5" y="329.8" font-size="7" fill="#3f6aa5" text-anchor="middle">Q</text>
<text stroke="#cc2f52" stroke-width="0.15" x="369.5" y="338.8" font-size="7" fill="#cc2f52" text-anchor="middle">T</text>
<text stroke="#4a4a4a" stroke-width="0.15" x="379.5" y="299.9" font-size="6.5" fill="#4a4a4a" text-anchor="middle">0</text>
<text stroke="#4a4a4a" stroke-width="0.15" x="379.5" y="309" font-size="6.5" fill="#4a4a4a" text-anchor="middle">9</text>
<text stroke="#4a4a4a" stroke-width="0.15" x="379.5" y="318.1" font-size="6.5" fill="#4a4a4a" text-anchor="middle">4</text>
<text stroke="#3f6aa5" stroke-width="0.15" x="379.5" y="329.8" font-size="7" fill="#3f6aa5" text-anchor="middle">Q</text>
<text stroke="#5e5e48" stroke-width="0.15" x="389" y="299.9" font-size="6.5" fill="#5e5e48" text-anchor="middle">0</text>
<text stroke="#5e5e48" stroke-width="0.15" x="389" y="309" font-size="6.5" fill="#5e5e48" text-anchor="middle">9</text>
<text stroke="#5e5e48" stroke-width="0.15" x="389" y="318.1" font-size="6.5" fill="#5e5e48" text-anchor="middle">5</text>
<text stroke="#4d7385" stroke-width="0.15" x="389" y="329.8" font-size="7" fill="#4d7385" text-anchor="middle">N</text>
<text stroke="#5e5e48" stroke-width="0.15" x="398.5" y="299.9" font-size="6.5" fill="#5e5e48" text-anchor="middle">0</text>
<text stroke="#5e5e48" stroke-width="0.15" x="398.5" y="309" font-size="6.5" fill="#5e5e48" text-anchor="middle">9</text>
<text stroke="#5e5e48" stroke-width="0.15" x="398.5" y="318.1" font-size="6.5" fill="#5e5e48" text-anchor="middle">6</text>
<text stroke="#4d7385" stroke-width="0.15" x="398.5" y="329.8" font-size="7" fill="#4d7385" text-anchor="middle">N</text>
<text stroke="#5e5e48" stroke-width="0.15" x="408.5" y="299.9" font-size="6.5" fill="#5e5e48" text-anchor="middle">0</text>
<text stroke="#5e5e48" stroke-width="0.15" x="408.5" y="309" font-size="6.5" fill="#5e5e48" text-anchor="middle">9</text>
<text stroke="#5e5e48" stroke-width="0.15" x="408.5" y="318.1" font-size="6.5" fill="#5e5e48" text-anchor="middle">7</text>
<text stroke="#4d7385" stroke-width="0.15" x="408.5" y="329.8" font-size="7" fill="#4d7385" text-anchor="middle">E</text>
<text stroke="#5e5e48" stroke-width="0.15" x="418.5" y="299.9" font-size="6.5" fill="#5e5e48" text-anchor="middle">0</text>
<text stroke="#5e5e48" stroke-width="0.15" x="418.5" y="309" font-size="6.5" fill="#5e5e48" text-anchor="middle">9</text>
<text stroke="#5e5e48" stroke-width="0.15" x="418.5" y="318.1" font-size="6.5" fill="#5e5e48" text-anchor="middle">8</text>
<text stroke="#4d7385" stroke-width="0.15" x="418.5" y="329.8" font-size="7" fill="#4d7385" text-anchor="middle">D</text>
<text stroke="#4a4a4a" stroke-width="0.15" x="428.5" y="299.9" font-size="6.5" fill="#4a4a4a" text-anchor="middle">0</text>
<text stroke="#4a4a4a" stroke-width="0.15" x="428.5" y="309" font-size="6.5" fill="#4a4a4a" text-anchor="middle">9</text>
<text stroke="#4a4a4a" stroke-width="0.15" x="428.5" y="318.1" font-size="6.5" fill="#4a4a4a" text-anchor="middle">9</text>
<text stroke="#3f6aa5" stroke-width="0.15" x="428.5" y="329.8" font-size="7" fill="#3f6aa5" text-anchor="middle">P</text>
<text stroke="#5e5e48" stroke-width="0.15" x="438.5" y="299.9" font-size="6.5" fill="#5e5e48" text-anchor="middle">1</text>
<text stroke="#5e5e48" stroke-width="0.15" x="438.5" y="309" font-size="6.5" fill="#5e5e48" text-anchor="middle">0</text>
<text stroke="#5e5e48" stroke-width="0.15" x="438.5" y="318.1" font-size="6.5" fill="#5e5e48" text-anchor="middle">0</text>
<text stroke="#4d7385" stroke-width="0.15" x="438.5" y="329.8" font-size="7" fill="#4d7385" text-anchor="middle">Y</text>
<text stroke="#a85048" stroke-width="0.15" x="438.5" y="338.8" font-size="7" fill="#a85048" text-anchor="middle">F</text>
<text stroke="#a85048" stroke-width="0.15" x="438.5" y="347.7" font-size="7" fill="#a85048" text-anchor="middle">W</text>
<text stroke="#4a4a4a" stroke-width="0.15" x="448.5" y="299.9" font-size="6.5" fill="#4a4a4a" text-anchor="middle">1</text>
<text stroke="#4a4a4a" stroke-width="0.15" x="448.5" y="309" font-size="6.5" fill="#4a4a4a" text-anchor="middle">0</text>
<text stroke="#4a4a4a" stroke-width="0.15" x="448.5" y="318.1" font-size="6.5" fill="#4a4a4a" text-anchor="middle">1</text>
<text stroke="#3f6aa5" stroke-width="0.15" x="448.5" y="329.8" font-size="7" fill="#3f6aa5" text-anchor="middle">T</text>
<text x="110.45" y="310.6" font-size="8.3" font-weight="bold" stroke="#000" stroke-width="0.3" fill="#000" text-anchor="middle">Positions</text>
<text x="110.45" y="329.3" font-size="8.4" font-weight="bold" stroke="#1f4f8a" stroke-width="0.3" fill="#1f4f8a" text-anchor="middle">TPP-26870</text>
<text x="110.45" y="340.7" font-size="8.4" font-weight="bold" stroke="#c8102e" stroke-width="0.3" fill="#c8102e" text-anchor="middle">Positions and</text>
<text x="110.45" y="351" font-size="8.4" font-weight="bold" stroke="#c8102e" stroke-width="0.3" fill="#c8102e" text-anchor="middle">Residues for</text>
<text x="110.45" y="361.3" font-size="8.4" font-weight="bold" fill="#c8102e" stroke="#c8102e" stroke-width="0.3" text-anchor="middle">Improved K<tspan font-size="5.8" dy="1.9" stroke-width="0.1">D</tspan></text>
<text x="6.9" y="389.2" font-size="10.5" font-weight="bold" stroke="#000" stroke-width="0.3" fill="#000">C</text>
<text stroke="#222" stroke-width="0.15" x="86.2" y="389.2" font-size="8.2" fill="#222">V<tspan font-size="5.3" dy="1.8">H</tspan><tspan dy="-1.8"> Optimization</tspan></text>
<path d="M44.4,397.2H182.0 M44.4,443H182.0 M113.2,397.2V488.8 M182.0,397.2V488.8" stroke="#b0b0b0" stroke-width="0.8" stroke-dasharray="1.6 1.2" fill="none"/>
<path d="M44.4,443L113.2,397.2 M44.4,488.8L182.0,397.2 M113.2,488.8L182.0,443" stroke="#c4c4c4" stroke-width="0.9" stroke-dasharray="2 2" fill="none"/>
<text stroke="#444" stroke-width="0.15" transform="translate(96.5,404.6) rotate(-50)" font-size="5.6" fill="#444" text-anchor="middle" dy="1.9">10<tspan font-size="3.9" dy="-2.2">−7</tspan></text>
<text stroke="#444" stroke-width="0.15" transform="translate(100.9,414.2) rotate(-50)" font-size="5.6" fill="#444" text-anchor="middle" dy="1.9">M<tspan font-size="3.9" dy="-2.2">−1</tspan></text>
<text stroke="#444" stroke-width="0.15" transform="translate(165.2,404.4) rotate(-50)" font-size="5.6" fill="#444" text-anchor="middle" dy="1.9">10<tspan font-size="3.9" dy="-2.2">−8</tspan></text>
<text stroke="#444" stroke-width="0.15" transform="translate(169.6,414) rotate(-50)" font-size="5.6" fill="#444" text-anchor="middle" dy="1.9">M<tspan font-size="3.9" dy="-2.2">−1</tspan></text>
<text stroke="#444" stroke-width="0.15" transform="translate(165.2,450.4) rotate(-50)" font-size="5.6" fill="#444" text-anchor="middle" dy="1.9">10<tspan font-size="3.9" dy="-2.2">−9</tspan></text>
<text stroke="#444" stroke-width="0.15" transform="translate(169.6,460) rotate(-50)" font-size="5.6" fill="#444" text-anchor="middle" dy="1.9">M<tspan font-size="3.9" dy="-2.2">−1</tspan></text>
<path d="M44.4,394.2V488.8H183" stroke="#2a2a2a" stroke-width="1.3" fill="none"/>
<path d="M41.4,397.2H44.4 M41.4,443H44.4 M41.4,488.8H44.4 M44.4,488.8v2.5 M113.2,488.8v2.5 M182.0,488.8v2.5" stroke="#2a2a2a" stroke-width="1" fill="none"/>
<text stroke="#333" stroke-width="0.15" x="37.6" y="399.3" font-size="6" fill="#333" text-anchor="end">0.1</text>
<text stroke="#333" stroke-width="0.15" x="37.6" y="445.1" font-size="6" fill="#333" text-anchor="end">0.01</text>
<text stroke="#333" stroke-width="0.15" x="37.6" y="490.9" font-size="6" fill="#333" text-anchor="end">0.001</text>
<text stroke="#333" stroke-width="0.15" x="45" y="500.6" font-size="6" fill="#333" text-anchor="middle">10<tspan font-size="3.8" dy="-2.6">5</tspan></text>
<text stroke="#333" stroke-width="0.15" x="113.8" y="500.6" font-size="6" fill="#333" text-anchor="middle">10<tspan font-size="3.8" dy="-2.6">6</tspan></text>
<text stroke="#333" stroke-width="0.15" x="182.6" y="500.6" font-size="6" fill="#333" text-anchor="middle">10<tspan font-size="3.8" dy="-2.6">7</tspan></text>
<text stroke="#222" stroke-width="0.15" x="113" y="511.1" font-size="6.6" fill="#222" text-anchor="middle">k<tspan font-size="4.6" dy="1.6">a</tspan><tspan dy="-1.6"> (M</tspan><tspan font-size="4.6" dy="-2.6">−1</tspan><tspan dy="2.6">s</tspan><tspan font-size="4.6" dy="-2.6">−1</tspan><tspan dy="2.6">)</tspan></text>
<text stroke="#222" stroke-width="0.15" transform="translate(15.9,443) rotate(-90)" font-size="6.8" fill="#222" text-anchor="middle">k<tspan font-size="4.6" dy="1.6">d</tspan><tspan dy="-1.6"> (s</tspan><tspan font-size="4.6" dy="-2.6">−1</tspan><tspan dy="2.6">)</tspan></text>
<path d="M103.4,432.5L110.6,427.3" stroke="#1a5a4a" stroke-width="0.6"/>
<path d="M102.8,434.9L105.8,434.9" stroke="#c66" stroke-width="0.6"/>
<circle cx="101.3" cy="423.3" r="1.8" fill="#14556a"/>
<circle cx="101" cy="431.7" r="1.8" fill="#b0102c"/>
<circle cx="101.7" cy="433.6" r="1.8" fill="#b0102c"/>
<circle cx="100.5" cy="435.6" r="1.8" fill="#b0102c"/>
<circle cx="98.5" cy="437.1" r="1.8" fill="#b0102c"/>
<circle cx="120.4" cy="436" r="1.8" fill="#b0102c"/>
<circle cx="130.4" cy="430.2" r="1.8" fill="#b0102c"/>
<circle cx="112.9" cy="442.9" r="1.8" fill="#b0102c"/>
<circle cx="101.3" cy="446" r="1.8" fill="#b0102c"/>
<circle cx="107.5" cy="455.6" r="1.8" fill="#b0102c"/>
<circle cx="132.6" cy="472.5" r="1.8" fill="#b0102c"/>
<text stroke="#2a2a2a" stroke-width="0.15" x="97.9" y="425" font-size="4.9" fill="#2a2a2a" text-anchor="end">TPP-26870 Parental</text>
<text stroke="#2a2a2a" stroke-width="0.15" x="110.2" y="428" font-size="4.9" fill="#2a2a2a" text-anchor="start">F103M</text>
<text stroke="#2a2a2a" stroke-width="0.15" x="96.9" y="432.3" font-size="4.9" fill="#2a2a2a" text-anchor="end">S54R</text>
<text stroke="#2a2a2a" stroke-width="0.15" x="133.6" y="435" font-size="4.9" fill="#2a2a2a" text-anchor="start">Y32F</text>
<text stroke="#2a2a2a" stroke-width="0.15" x="106.2" y="436.5" font-size="4.9" fill="#2a2a2a" text-anchor="start">T57P</text>
<text stroke="#2a2a2a" stroke-width="0.15" x="122.2" y="440.3" font-size="4.9" fill="#2a2a2a" text-anchor="start">S56R</text>
<text stroke="#2a2a2a" stroke-width="0.15" x="96" y="439.9" font-size="4.9" fill="#2a2a2a" text-anchor="end">S53T</text>
<text stroke="#2a2a2a" stroke-width="0.15" x="114.4" y="448" font-size="4.9" fill="#2a2a2a" text-anchor="start">N31I</text>
<text stroke="#2a2a2a" stroke-width="0.15" x="98.9" y="450.3" font-size="4.9" fill="#2a2a2a" text-anchor="end">M34F</text>
<text stroke="#2a2a2a" stroke-width="0.15" x="97.7" y="462.5" font-size="4.9" fill="#2a2a2a" text-anchor="start">N31P</text>
<text stroke="#2a2a2a" stroke-width="0.15" x="117.5" y="474.7" font-size="4.9" fill="#2a2a2a" text-anchor="start">N31F</text>
<text x="6.9" y="541.2" font-size="10.5" font-weight="bold" stroke="#000" stroke-width="0.3" fill="#000">D</text>
<text stroke="#222" stroke-width="0.15" x="86.2" y="541.2" font-size="8.2" fill="#222">V<tspan font-size="5.3" dy="1.8">L</tspan><tspan dy="-1.8"> Optimization</tspan></text>
<path d="M44.4,549.2H182.0 M44.4,595H182.0 M113.2,549.2V640.8 M182.0,549.2V640.8" stroke="#b0b0b0" stroke-width="0.8" stroke-dasharray="1.6 1.2" fill="none"/>
<path d="M44.4,595L113.2,549.2 M44.4,640.8L182.0,549.2 M113.2,640.8L182.0,595" stroke="#c4c4c4" stroke-width="0.9" stroke-dasharray="2 2" fill="none"/>
<text stroke="#444" stroke-width="0.15" transform="translate(96.5,556.6) rotate(-50)" font-size="5.6" fill="#444" text-anchor="middle" dy="1.9">10<tspan font-size="3.9" dy="-2.2">−7</tspan></text>
<text stroke="#444" stroke-width="0.15" transform="translate(100.9,566.2) rotate(-50)" font-size="5.6" fill="#444" text-anchor="middle" dy="1.9">M<tspan font-size="3.9" dy="-2.2">−1</tspan></text>
<text stroke="#444" stroke-width="0.15" transform="translate(165.2,556.4) rotate(-50)" font-size="5.6" fill="#444" text-anchor="middle" dy="1.9">10<tspan font-size="3.9" dy="-2.2">−8</tspan></text>
<text stroke="#444" stroke-width="0.15" transform="translate(169.6,566) rotate(-50)" font-size="5.6" fill="#444" text-anchor="middle" dy="1.9">M<tspan font-size="3.9" dy="-2.2">−1</tspan></text>
<text stroke="#444" stroke-width="0.15" transform="translate(165.2,602.4) rotate(-50)" font-size="5.6" fill="#444" text-anchor="middle" dy="1.9">10<tspan font-size="3.9" dy="-2.2">−9</tspan></text>
<text stroke="#444" stroke-width="0.15" transform="translate(169.6,612) rotate(-50)" font-size="5.6" fill="#444" text-anchor="middle" dy="1.9">M<tspan font-size="3.9" dy="-2.2">−1</tspan></text>
<path d="M44.4,546.2V640.8H183" stroke="#2a2a2a" stroke-width="1.3" fill="none"/>
<path d="M41.4,549.2H44.4 M41.4,595H44.4 M41.4,640.8H44.4 M44.4,640.8v2.5 M113.2,640.8v2.5 M182.0,640.8v2.5" stroke="#2a2a2a" stroke-width="1" fill="none"/>
<text stroke="#333" stroke-width="0.15" x="37.6" y="551.3" font-size="6" fill="#333" text-anchor="end">0.1</text>
<text stroke="#333" stroke-width="0.15" x="37.6" y="597.1" font-size="6" fill="#333" text-anchor="end">0.01</text>
<text stroke="#333" stroke-width="0.15" x="37.6" y="642.9" font-size="6" fill="#333" text-anchor="end">0.001</text>
<text stroke="#333" stroke-width="0.15" x="45" y="652.6" font-size="6" fill="#333" text-anchor="middle">10<tspan font-size="3.8" dy="-2.6">5</tspan></text>
<text stroke="#333" stroke-width="0.15" x="113.8" y="652.6" font-size="6" fill="#333" text-anchor="middle">10<tspan font-size="3.8" dy="-2.6">6</tspan></text>
<text stroke="#333" stroke-width="0.15" x="182.6" y="652.6" font-size="6" fill="#333" text-anchor="middle">10<tspan font-size="3.8" dy="-2.6">7</tspan></text>
<text stroke="#222" stroke-width="0.15" x="113" y="663.1" font-size="6.6" fill="#222" text-anchor="middle">k<tspan font-size="4.6" dy="1.6">a</tspan><tspan dy="-1.6"> (M</tspan><tspan font-size="4.6" dy="-2.6">−1</tspan><tspan dy="2.6">s</tspan><tspan font-size="4.6" dy="-2.6">−1</tspan><tspan dy="2.6">)</tspan></text>
<text stroke="#222" stroke-width="0.15" transform="translate(15.9,595) rotate(-90)" font-size="6.8" fill="#222" text-anchor="middle">k<tspan font-size="4.6" dy="1.6">d</tspan><tspan dy="-1.6"> (s</tspan><tspan font-size="4.6" dy="-2.6">−1</tspan><tspan dy="2.6">)</tspan></text>
<path d="M93.8,580.7L101.7,583.5" stroke="#444" stroke-width="0.6"/>
<path d="M89.9,585.3L100.6,585.3" stroke="#444" stroke-width="0.6"/>
<path d="M93.8,589.3L101.1,587.6" stroke="#444" stroke-width="0.6"/>
<path d="M106.9,583.5L116.2,583.5" stroke="#444" stroke-width="0.6"/>
<circle cx="101.1" cy="575.2" r="1.8" fill="#14556a"/>
<circle cx="106.6" cy="581.2" r="1.8" fill="#b0102c"/>
<circle cx="101.2" cy="583.8" r="1.9" fill="#b0102c"/>
<circle cx="104.3" cy="583.2" r="1.9" fill="#b0102c"/>
<circle cx="102.3" cy="586.2" r="1.9" fill="#b0102c"/>
<circle cx="104.6" cy="585.6" r="1.9" fill="#b0102c"/>
<circle cx="105.8" cy="590.4" r="1.8" fill="#b0102c"/>
<circle cx="107.6" cy="598.3" r="1.8" fill="#b0102c"/>
<circle cx="103.4" cy="600.7" r="1.8" fill="#b0102c"/>
<circle cx="104.8" cy="604.2" r="1.8" fill="#b0102c"/>
<circle cx="88.2" cy="606" r="1.8" fill="#b0102c"/>
<circle cx="119.2" cy="613.8" r="1.8" fill="#b0102c"/>
<text stroke="#2a2a2a" stroke-width="0.15" x="97.7" y="574.8" font-size="4.9" fill="#2a2a2a" text-anchor="end">TPP-26870 Parental</text>
<text stroke="#2a2a2a" stroke-width="0.15" x="93.4" y="581.2" font-size="4.9" fill="#2a2a2a" text-anchor="end">A55K</text>
<text stroke="#2a2a2a" stroke-width="0.15" x="108" y="580.7" font-size="4.9" fill="#2a2a2a" text-anchor="start">S56R</text>
<text stroke="#2a2a2a" stroke-width="0.15" x="116.9" y="585.7" font-size="4.9" fill="#2a2a2a" text-anchor="start">Q93T</text>
<text stroke="#2a2a2a" stroke-width="0.15" x="89.7" y="587" font-size="4.9" fill="#2a2a2a" text-anchor="end">S28R</text>
<text stroke="#2a2a2a" stroke-width="0.15" x="93.4" y="592.2" font-size="4.9" fill="#2a2a2a" text-anchor="end">N57H</text>
<text stroke="#2a2a2a" stroke-width="0.15" x="108.3" y="594.8" font-size="4.9" fill="#2a2a2a" text-anchor="start">Q27E</text>
<text stroke="#2a2a2a" stroke-width="0.15" x="101.5" y="601.7" font-size="4.9" fill="#2a2a2a" text-anchor="end">N57R</text>
<text stroke="#2a2a2a" stroke-width="0.15" x="109.6" y="602.5" font-size="4.9" fill="#2a2a2a" text-anchor="start">S56W</text>
<text stroke="#2a2a2a" stroke-width="0.15" x="106.3" y="609.5" font-size="4.9" fill="#2a2a2a" text-anchor="start">Y100F</text>
<text stroke="#2a2a2a" stroke-width="0.15" x="86.5" y="612.1" font-size="4.9" fill="#2a2a2a" text-anchor="end">Y100W</text>
<text stroke="#2a2a2a" stroke-width="0.15" x="121.7" y="618.4" font-size="4.9" fill="#2a2a2a" text-anchor="start">N57W</text>
<text x="202.5" y="389.2" font-size="10.5" font-weight="bold" stroke="#000" stroke-width="0.3" fill="#000">E</text>
<text stroke="#222" stroke-width="0.15" x="335.8" y="389.5" font-size="8.2" fill="#222">V<tspan font-size="5.3" dy="1.8">H</tspan><tspan dy="-1.8"> Optimization</tspan></text>
<rect x="242.1" y="405.68" width="13.9" height="67.62" fill="#1c4f8b"/>
<text stroke="#fff" stroke-width="0.15" transform="translate(251.25,463.3) rotate(-90)" font-size="6.3" fill="#fff">28.0 nM</text>
<path d="M249.05,473.3v2.4" stroke="#333" stroke-width="0.8"/>
<text stroke="#222" stroke-width="0.15" transform="translate(248.15,482.7) rotate(-45)" font-size="6.1" fill="#222" text-anchor="end">TPP-26870</text>
<text stroke="#222" stroke-width="0.15" transform="translate(253.25,487.8) rotate(-45)" font-size="6.1" fill="#222" text-anchor="end">Parental</text>
<rect x="265.12" y="407.2" width="13.9" height="66.1" fill="#c8102e"/>
<text stroke="#fff" stroke-width="0.15" transform="translate(274.27,463.3) rotate(-90)" font-size="6.3" fill="#fff">26.0 nM</text>
<path d="M272.07,473.3v2.4" stroke="#333" stroke-width="0.8"/>
<text stroke="#222" stroke-width="0.15" transform="translate(271.87,483.6) rotate(-45)" font-size="6.1" fill="#222" text-anchor="end">S54R</text>
<rect x="288.14" y="409.72" width="13.9" height="63.58" fill="#c8102e"/>
<text stroke="#fff" stroke-width="0.15" transform="translate(297.29,463.3) rotate(-90)" font-size="6.3" fill="#fff">23.0 nM</text>
<path d="M295.09,473.3v2.4" stroke="#333" stroke-width="0.8"/>
<text stroke="#222" stroke-width="0.15" transform="translate(294.89,483.6) rotate(-45)" font-size="6.1" fill="#222" text-anchor="end">F103M</text>
<rect x="311.16" y="410.64" width="13.9" height="62.66" fill="#c8102e"/>
<text stroke="#fff" stroke-width="0.15" transform="translate(320.31,463.3) rotate(-90)" font-size="6.3" fill="#fff">22.0 nM</text>
<path d="M318.11,473.3v2.4" stroke="#333" stroke-width="0.8"/>
<text stroke="#222" stroke-width="0.15" transform="translate(317.91,483.6) rotate(-45)" font-size="6.1" fill="#222" text-anchor="end">S53T</text>
<rect x="334.18" y="410.64" width="13.9" height="62.66" fill="#c8102e"/>
<text stroke="#fff" stroke-width="0.15" transform="translate(343.33,463.3) rotate(-90)" font-size="6.3" fill="#fff">22.0 nM</text>
<path d="M341.13,473.3v2.4" stroke="#333" stroke-width="0.8"/>
<text stroke="#222" stroke-width="0.15" transform="translate(340.93,483.6) rotate(-45)" font-size="6.1" fill="#222" text-anchor="end">T57P</text>
<rect x="357.2" y="421.45" width="13.9" height="51.85" fill="#c8102e"/>
<text stroke="#fff" stroke-width="0.15" transform="translate(366.35,463.3) rotate(-90)" font-size="6.3" fill="#fff">13.0 nM</text>
<path d="M364.15,473.3v2.4" stroke="#333" stroke-width="0.8"/>
<text stroke="#222" stroke-width="0.15" transform="translate(363.95,483.6) rotate(-45)" font-size="6.1" fill="#222" text-anchor="end">M34F</text>
<rect x="380.22" y="424.89" width="13.9" height="48.41" fill="#c8102e"/>
<text stroke="#fff" stroke-width="0.15" transform="translate(389.37,463.3) rotate(-90)" font-size="6.3" fill="#fff">11.0 nM</text>
<path d="M387.17,473.3v2.4" stroke="#333" stroke-width="0.8"/>
<text stroke="#222" stroke-width="0.15" transform="translate(386.97,483.6) rotate(-45)" font-size="6.1" fill="#222" text-anchor="end">Y32F</text>
<rect x="403.24" y="424.89" width="13.9" height="48.41" fill="#c8102e"/>
<text stroke="#fff" stroke-width="0.15" transform="translate(412.39,463.3) rotate(-90)" font-size="6.3" fill="#fff">11.0 nM</text>
<path d="M410.19,473.3v2.4" stroke="#333" stroke-width="0.8"/>
<text stroke="#222" stroke-width="0.15" transform="translate(409.99,483.6) rotate(-45)" font-size="6.1" fill="#222" text-anchor="end">S56R</text>
<rect x="426.26" y="426.85" width="13.9" height="46.45" fill="#c8102e"/>
<text stroke="#fff" stroke-width="0.15" transform="translate(435.41,463.3) rotate(-90)" font-size="6.3" fill="#fff">10.0 nM</text>
<path d="M433.21,473.3v2.4" stroke="#333" stroke-width="0.8"/>
<text stroke="#222" stroke-width="0.15" transform="translate(433.01,483.6) rotate(-45)" font-size="6.1" fill="#222" text-anchor="end">N31I</text>
<rect x="449.28" y="436.03" width="13.9" height="37.27" fill="#c8102e"/>
<text stroke="#fff" stroke-width="0.15" transform="translate(458.43,463.3) rotate(-90)" font-size="6.3" fill="#fff">6.4 nM</text>
<path d="M456.23,473.3v2.4" stroke="#333" stroke-width="0.8"/>
<text stroke="#222" stroke-width="0.15" transform="translate(456.03,483.6) rotate(-45)" font-size="6.1" fill="#222" text-anchor="end">N31P</text>
<rect x="472.3" y="470.45" width="13.9" height="2.85" fill="#c8102e"/>
<text stroke="#333" stroke-width="0.15" transform="translate(481.45,461.95) rotate(-90)" font-size="6.3" fill="#333">1.2 nM</text>
<path d="M479.25,473.3v2.4" stroke="#333" stroke-width="0.8"/>
<text stroke="#222" stroke-width="0.15" transform="translate(479.05,483.6) rotate(-45)" font-size="6.1" fill="#222" text-anchor="end">N31F</text>
<path d="M260.52,395V473.3" stroke="#333" stroke-width="1.1" stroke-dasharray="1.5 1.9"/>
<path d="M233.5,394V473.3H494.8" stroke="#222" stroke-width="1.1" fill="none"/>
<path d="M230.9,473.3H233.5 M232,459.05H233.5 M232,450.71H233.5 M232,444.79H233.5 M232,440.2H233.5 M232,436.45H233.5 M232,433.28H233.5 M232,430.54H233.5 M232,428.12H233.5 M230.9,425.95H233.5 M232,411.7H233.5 M232,403.36H233.5 M232,397.44H233.5" stroke="#222" stroke-width="0.7"/>
<text stroke="#333" stroke-width="0.15" x="228.6" y="428.1" font-size="6" fill="#333" text-anchor="end">10</text>
<text stroke="#333" stroke-width="0.15" x="228.6" y="475.4" font-size="6" fill="#333" text-anchor="end">1</text>
<text stroke="#222" stroke-width="0.15" transform="translate(214.6,434.8) rotate(-90)" font-size="6.3" fill="#222" text-anchor="middle">K<tspan font-size="4.3" dy="1.5">D</tspan><tspan dy="-1.5"> (× 10</tspan><tspan font-size="4.3" dy="-2.4">−9</tspan><tspan dy="2.4"> M)</tspan></text>
<path d="M289,513.3 L513.6,497.5 L513.6,513.3 Z" fill="#1c4f8b"/>
<text x="509.9" y="509.9" font-size="8.1" fill="#fff" text-anchor="end" stroke="none">Improved Affinity</text>
<text x="202.5" y="541.3" font-size="10.5" font-weight="bold" stroke="#000" stroke-width="0.3" fill="#000">F</text>
<text stroke="#222" stroke-width="0.15" x="341.2" y="541.6" font-size="8.2" fill="#222">V<tspan font-size="5.3" dy="1.8">L</tspan><tspan dy="-1.8"> Optimization</tspan></text>
<rect x="241.3" y="557.05" width="13.2" height="64.25" fill="#1c4f8b"/>
<text stroke="#fff" stroke-width="0.15" transform="translate(250.1,613.3) rotate(-90)" font-size="6.0" fill="#fff">28.0 nM</text>
<path d="M247.9,621.3v2.4" stroke="#333" stroke-width="0.8"/>
<text stroke="#222" stroke-width="0.15" transform="translate(247,630.7) rotate(-45)" font-size="6.1" fill="#222" text-anchor="end">TPP-26870</text>
<text stroke="#222" stroke-width="0.15" transform="translate(252.1,635.8) rotate(-45)" font-size="6.1" fill="#222" text-anchor="end">Parental</text>
<rect x="263.25" y="559.23" width="13.2" height="62.07" fill="#c8102e"/>
<text stroke="#fff" stroke-width="0.15" transform="translate(272.05,613.3) rotate(-90)" font-size="6.0" fill="#fff">25.0 nM</text>
<path d="M269.85,621.3v2.4" stroke="#333" stroke-width="0.8"/>
<text stroke="#222" stroke-width="0.15" transform="translate(269.65,631.6) rotate(-45)" font-size="6.1" fill="#222" text-anchor="end">A55K</text>
<rect x="285.2" y="559.23" width="13.2" height="62.07" fill="#c8102e"/>
<text stroke="#fff" stroke-width="0.15" transform="translate(294,613.3) rotate(-90)" font-size="6.0" fill="#fff">25.0 nM</text>
<path d="M291.8,621.3v2.4" stroke="#333" stroke-width="0.8"/>
<text stroke="#222" stroke-width="0.15" transform="translate(291.6,631.6) rotate(-45)" font-size="6.1" fill="#222" text-anchor="end">S56R</text>
<rect x="307.15" y="560.02" width="13.2" height="61.28" fill="#c8102e"/>
<text stroke="#fff" stroke-width="0.15" transform="translate(315.95,613.3) rotate(-90)" font-size="6.0" fill="#fff">24.0 nM</text>
<path d="M313.75,621.3v2.4" stroke="#333" stroke-width="0.8"/>
<text stroke="#222" stroke-width="0.15" transform="translate(313.55,631.6) rotate(-45)" font-size="6.1" fill="#222" text-anchor="end">Q93T</text>
<rect x="329.1" y="560.02" width="13.2" height="61.28" fill="#c8102e"/>
<text stroke="#fff" stroke-width="0.15" transform="translate(337.9,613.3) rotate(-90)" font-size="6.0" fill="#fff">24.0 nM</text>
<path d="M335.7,621.3v2.4" stroke="#333" stroke-width="0.8"/>
<text stroke="#222" stroke-width="0.15" transform="translate(335.5,631.6) rotate(-45)" font-size="6.1" fill="#222" text-anchor="end">S28R</text>
<rect x="351.05" y="562.59" width="13.2" height="58.71" fill="#c8102e"/>
<text stroke="#fff" stroke-width="0.15" transform="translate(359.85,613.3) rotate(-90)" font-size="6.0" fill="#fff">21.0 nM</text>
<path d="M357.65,621.3v2.4" stroke="#333" stroke-width="0.8"/>
<text stroke="#222" stroke-width="0.15" transform="translate(357.45,631.6) rotate(-45)" font-size="6.1" fill="#222" text-anchor="end">N57H</text>
<rect x="373" y="567.84" width="13.2" height="53.46" fill="#c8102e"/>
<text stroke="#fff" stroke-width="0.15" transform="translate(381.8,613.3) rotate(-90)" font-size="6.0" fill="#fff">16.0 nM</text>
<path d="M379.6,621.3v2.4" stroke="#333" stroke-width="0.8"/>
<text stroke="#222" stroke-width="0.15" transform="translate(379.4,631.6) rotate(-45)" font-size="6.1" fill="#222" text-anchor="end">Q27E</text>
<rect x="394.95" y="571.84" width="13.2" height="49.46" fill="#c8102e"/>
<text stroke="#fff" stroke-width="0.15" transform="translate(403.75,613.3) rotate(-90)" font-size="6.0" fill="#fff">13.0 nM</text>
<path d="M401.55,621.3v2.4" stroke="#333" stroke-width="0.8"/>
<text stroke="#222" stroke-width="0.15" transform="translate(401.35,631.6) rotate(-45)" font-size="6.1" fill="#222" text-anchor="end">Y100W</text>
<rect x="416.9" y="576.9" width="13.2" height="44.4" fill="#c8102e"/>
<text stroke="#fff" stroke-width="0.15" transform="translate(425.7,613.3) rotate(-90)" font-size="6.0" fill="#fff">10.0 nM</text>
<path d="M423.5,621.3v2.4" stroke="#333" stroke-width="0.8"/>
<text stroke="#222" stroke-width="0.15" transform="translate(423.3,631.6) rotate(-45)" font-size="6.1" fill="#222" text-anchor="end">S56W</text>
<rect x="438.85" y="576.9" width="13.2" height="44.4" fill="#c8102e"/>
<text stroke="#fff" stroke-width="0.15" transform="translate(447.65,613.3) rotate(-90)" font-size="6.0" fill="#fff">10.0 nM</text>
<path d="M445.45,621.3v2.4" stroke="#333" stroke-width="0.8"/>
<text stroke="#222" stroke-width="0.15" transform="translate(445.25,631.6) rotate(-45)" font-size="6.1" fill="#222" text-anchor="end">N57R</text>
<rect x="460.8" y="580.49" width="13.2" height="40.81" fill="#c8102e"/>
<text stroke="#fff" stroke-width="0.15" transform="translate(469.6,613.3) rotate(-90)" font-size="6.0" fill="#fff">8.3 nM</text>
<path d="M467.4,621.3v2.4" stroke="#333" stroke-width="0.8"/>
<text stroke="#222" stroke-width="0.15" transform="translate(467.2,631.6) rotate(-45)" font-size="6.1" fill="#222" text-anchor="end">Y100F</text>
<rect x="482.75" y="599.48" width="13.2" height="21.82" fill="#c8102e"/>
<text stroke="#fff" stroke-width="0.15" transform="translate(491.55,601.88) rotate(-90)" font-size="6.0" fill="#fff" text-anchor="end">3.1 nM</text>
<path d="M489.35,621.3v2.4" stroke="#333" stroke-width="0.8"/>
<text stroke="#222" stroke-width="0.15" transform="translate(489.15,631.6) rotate(-45)" font-size="6.1" fill="#222" text-anchor="end">N57W</text>
<path d="M258.65,547V621.3" stroke="#333" stroke-width="1.1" stroke-dasharray="1.5 1.9"/>
<path d="M233.5,546V621.3H504" stroke="#222" stroke-width="1.1" fill="none"/>
<path d="M230.9,621.3H233.5 M232,607.93H233.5 M232,600.12H233.5 M232,594.57H233.5 M232,590.27H233.5 M232,586.75H233.5 M232,583.78H233.5 M232,581.2H233.5 M232,578.93H233.5 M230.9,576.9H233.5 M232,563.53H233.5 M232,555.72H233.5 M232,550.17H233.5" stroke="#222" stroke-width="0.7"/>
<text stroke="#333" stroke-width="0.15" x="228.6" y="578.4" font-size="6" fill="#333" text-anchor="end">10</text>
<text stroke="#333" stroke-width="0.15" x="228.6" y="623.4" font-size="6" fill="#333" text-anchor="end">1</text>
<text stroke="#222" stroke-width="0.15" transform="translate(214.6,585.1) rotate(-90)" font-size="6.3" fill="#222" text-anchor="middle">K<tspan font-size="4.3" dy="1.5">D</tspan><tspan dy="-1.5"> (× 10</tspan><tspan font-size="4.3" dy="-2.4">−9</tspan><tspan dy="2.4"> M)</tspan></text>
<path d="M289,665.2 L513.6,649.4 L513.6,665.2 Z" fill="#1c4f8b"/>
<text x="509.9" y="661.8" font-size="8.1" fill="#fff" text-anchor="end" stroke="none">Improved Affinity</text>
</svg>
</body></html>
